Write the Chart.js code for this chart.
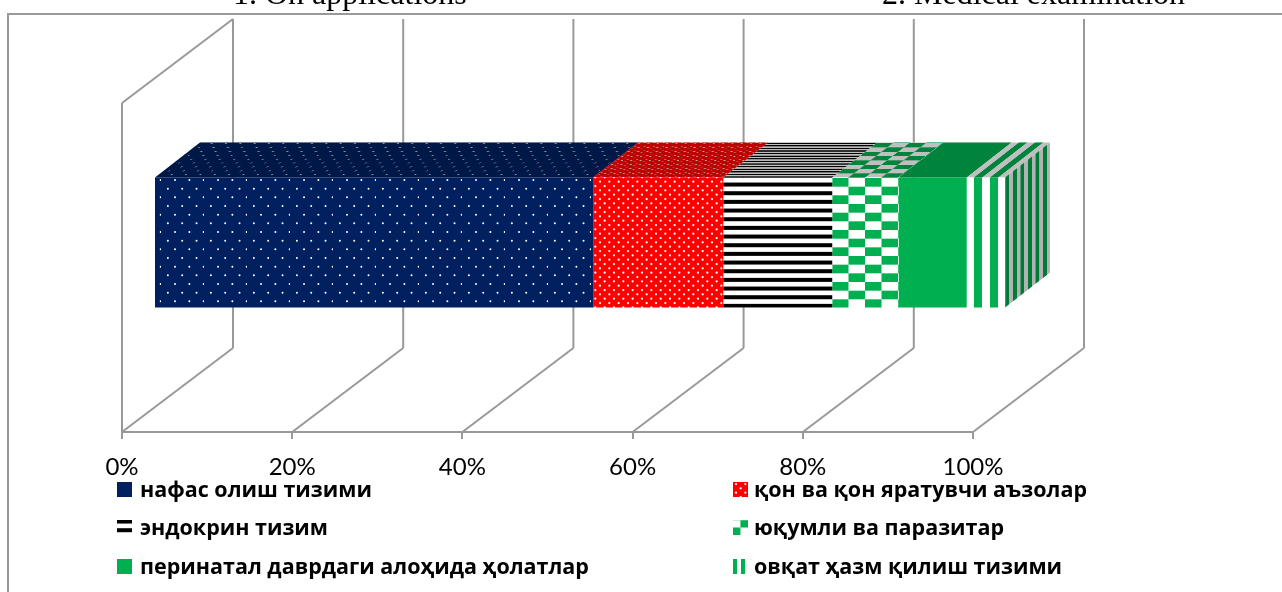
<!DOCTYPE html>
<html>
<head>
<meta charset="utf-8">
<title>Chart</title>
<script src="https://cdn.jsdelivr.net/npm/chart.js@4"></script>
<style>
    html, body { margin: 0; padding: 0; background: #fff; overflow: hidden; }
    canvas { display: block; }
</style>
</head>
<body>
<canvas id="chart" width="1282" height="592"></canvas>
<script>
// Chart data
const categories = [''];
const seriesNames = [
    'нафас олиш тизими',
    'қон ва қон яратувчи аъзолар',
    'эндокрин тизим',
    'юқумли ва паразитар',
    'перинатал даврдаги алоҳида ҳолатлар',
    'овқат ҳазм қилиш тизими'
];
const seriesValues = [51.6, 15.3, 12.8, 7.8, 8.0, 4.5];
const tickValues = [0, 20, 40, 60, 80, 100];
const headerTexts = ['1. On applications', '2. Medical examination'];

// 3D look
const GRID = '#999999';
const WALL_DX = 111, WALL_DY = 84;
const BAR_DX = 32, BAR_DY = 25;
const FACE_DX = 45, FACE_DY = 35;
const GREEN = '#00b050';
const NAVY = '#002060';
// how far each fill is squeezed on the top of the bar
const TOP_SQUEEZE = [0.45, 0.3, 0.3, 0.5, 0.5, 0.5];

function tile(w, h, draw) {
    const c = document.createElement('canvas');
    c.width = w;
    c.height = h;
    draw(c.getContext('2d'));
    return c.getContext('2d').createPattern(c, 'repeat');
}

function dots(w, h, nx, ny, ox, oy, bg, r) {
    return tile(w, h, g => {
        g.fillStyle = bg;
        g.fillRect(0, 0, w, h);
        g.fillStyle = '#fff';
        for (let j = 0; j < ny; j++) {
            for (let i = 0; i < nx; i++) {
                const x = (ox + (i + (j % 2) / 2) * w / nx) % w;
                const y = (oy + j * h / ny) % h;
                g.beginPath();
                g.arc(x, y, r, 0, Math.PI * 2);
                g.fill();
            }
        }
    });
}

const patterns = [
    dots(43, 52, 3, 6, 128.7, 205, NAVY, 1.0),
    dots(28, 26, 3, 6, 568, 206.7, '#ff0000', 1.1),
    // black bands
    tile(8, 26, g => {
        g.fillStyle = '#fff';
        g.fillRect(0, 0, 8, 26);
        g.fillStyle = '#000';
        for (let j = -1; j < 4; j++) g.fillRect(0, j * 26 / 3 - 0.45, 8, 4);
    }),
    // checker
    tile(33, 52, g => {
        g.fillStyle = '#fff';
        g.fillRect(0, 0, 33, 52);
        g.fillStyle = GREEN;
        for (let j = 0; j < 6; j++) {
            const y = (47 + j * 52 / 6) % 52;
            const x = 8 + (j % 2 === 0 ? 0 : 16.5);
            for (const dy of [0, -52]) {
                for (const dx of [-33, 0, 33]) g.fillRect(x + dx, y + dy, 16.5, 52 / 6);
            }
        }
    }),
    GREEN,
    // upright bands
    tile(16, 4, g => {
        g.fillStyle = GREEN;
        g.fillRect(0, 0, 16, 4);
        g.fillStyle = '#fff';
        g.fillRect(6, 0, 8, 4);
    })
];

// legend squares show some fills smaller than the bar does
const swatchFills = [NAVY, patterns[1], patterns[2], patterns[3], GREEN, patterns[5]];
const swatchFit = [null, null, null, { sx: 0.45, sy: 0.87, ox: 8, oy: 3.67 }, null, { sx: 0.5, sy: 1, ox: 14, oy: 0 }];

function line(ctx, x0, y0, x1, y1) {
    ctx.beginPath();
    ctx.moveTo(x0, y0);
    ctx.lineTo(x1, y1);
    ctx.stroke();
}

const scene3d = {
    id: 'scene3d',
    beforeDraw(chart) {
        const { ctx } = chart;
        ctx.save();
        ctx.fillStyle = '#fff';
        ctx.fillRect(0, 0, chart.width, chart.height);
        ctx.fillStyle = '#000';
        ctx.font = '32px "Liberation Serif"';
        ctx.textBaseline = 'alphabetic';
        ctx.fillText(headerTexts[0], 233, 4);
        ctx.fillText(headerTexts[1], 882, 4);
        // frame
        ctx.strokeStyle = GRID;
        ctx.lineWidth = 2;
        ctx.beginPath();
        ctx.moveTo(8, chart.height);
        ctx.lineTo(8, 14);
        ctx.lineTo(chart.width, 14);
        ctx.stroke();
        ctx.restore();
    },
    beforeDatasetsDraw(chart) {
        const { ctx, chartArea } = chart;
        const x = chart.scales.x;
        ctx.save();
        ctx.strokeStyle = GRID;
        ctx.lineWidth = 2;
        // walls and floor
        line(ctx, chartArea.left, chartArea.top, chartArea.left, chartArea.bottom);
        line(ctx, chartArea.left, chartArea.top, chartArea.left + WALL_DX, chartArea.top - WALL_DY);
        x.ticks.forEach(t => {
            const px = x.getPixelForValue(t.value);
            line(ctx, px, chartArea.bottom, px + WALL_DX, chartArea.bottom - WALL_DY);
            line(ctx, px + WALL_DX, chartArea.top - WALL_DY, px + WALL_DX, chartArea.bottom - WALL_DY);
        });
        ctx.restore();

        // top and side of the bar, using the same fills sheared back
        ctx.save();
        ctx.translate(BAR_DX, -BAR_DY);
        const k = FACE_DX / FACE_DY;
        chart.data.datasets.forEach((ds, i) => {
            const bar = chart.getDatasetMeta(i).data[0];
            const top = bar.y - bar.height / 2;
            const s = TOP_SQUEEZE[i];
            ctx.save();
            ctx.transform(1, 0, -s * k, s, top * s * k, top * (1 - s));
            const v = top - FACE_DY / s;
            ctx.fillStyle = ds.backgroundColor;
            ctx.fillRect(bar.base, v, bar.x - bar.base, FACE_DY / s);
            ctx.fillStyle = 'rgba(0,0,0,0.25)';
            ctx.fillRect(bar.base, v, bar.x - bar.base, FACE_DY / s);
            ctx.restore();
        });
        const last = chart.data.datasets.length - 1;
        const end = chart.getDatasetMeta(last).data[0];
        const top = end.y - end.height / 2;
        const sx = 0.47, ky = FACE_DY / FACE_DX;
        ctx.save();
        ctx.transform(sx, -sx * ky, 0, 1, end.x * (1 - sx), end.x * sx * ky);
        ctx.fillStyle = chart.data.datasets[last].backgroundColor;
        ctx.fillRect(end.x, top, FACE_DX / sx, end.height);
        ctx.fillStyle = 'rgba(0,0,0,0.3)';
        ctx.fillRect(end.x, top, FACE_DX / sx, end.height);
        ctx.restore();
        ctx.restore();

        // the bar itself sits part way into the depth
        ctx.save();
        ctx.translate(BAR_DX, -BAR_DY);
    },
    afterDatasetsDraw(chart) {
        chart.ctx.restore();
    },
    afterDraw(chart) {
        // two column legend
        const { ctx } = chart;
        const boxX = [117, 733], textX = [140, 754], rowY = [490, 528, 567];
        ctx.save();
        ctx.textBaseline = 'middle';
        ctx.font = 'bold 21.5px "Open Sans"';
        chart.data.datasets.forEach((ds, i) => {
            const bx = boxX[i % 2], by = rowY[Math.floor(i / 2)];
            const fit = swatchFit[i];
            ctx.save();
            ctx.beginPath();
            ctx.rect(bx, by - 8, 15, 15);
            ctx.clip();
            ctx.fillStyle = swatchFills[i];
            if (fit) {
                ctx.translate(bx - fit.ox * fit.sx, by - 8 - fit.oy * fit.sy);
                ctx.scale(fit.sx, fit.sy);
                ctx.fillRect(0, 0, 200, 200);
            } else {
                ctx.fillRect(bx, by - 8, 15, 15);
            }
            ctx.restore();
            ctx.fillStyle = '#000';
            ctx.fillText(ds.label, textX[i % 2], by + 1);
        });
        ctx.restore();
    }
};

new Chart(document.getElementById('chart').getContext('2d'), {
    type: 'bar',
    data: {
        labels: categories,
        datasets: seriesNames.map((name, i) => ({
            label: name,
            data: [seriesValues[i]],
            backgroundColor: patterns[i],
            borderWidth: 0,
            barPercentage: 0.395,
            categoryPercentage: 1
        }))
    },
    options: {
        indexAxis: 'y',
        responsive: false,
        animation: false,
        layout: { padding: { left: 122, right: 309, top: 103, bottom: 0 } },
        plugins: { legend: { display: false }, tooltip: { enabled: false } },
        scales: {
            y: { stacked: true, display: false },
            x: {
                stacked: true,
                min: 0,
                max: 100,
                afterBuildTicks: scale => { scale.ticks = tickValues.map(value => ({ value })); },
                afterFit: scale => { scale.height = 160; },
                grid: { drawOnChartArea: false, color: GRID, lineWidth: 2, tickLength: 7 },
                border: { display: true, color: GRID, width: 2 },
                ticks: {
                    color: '#000',
                    maxRotation: 0,
                    padding: 14,
                    font: { family: 'Lato', size: 24 },
                    callback: value => value + '%'
                }
            }
        }
    },
    plugins: [scene3d]
});
</script>
</body>
</html>
